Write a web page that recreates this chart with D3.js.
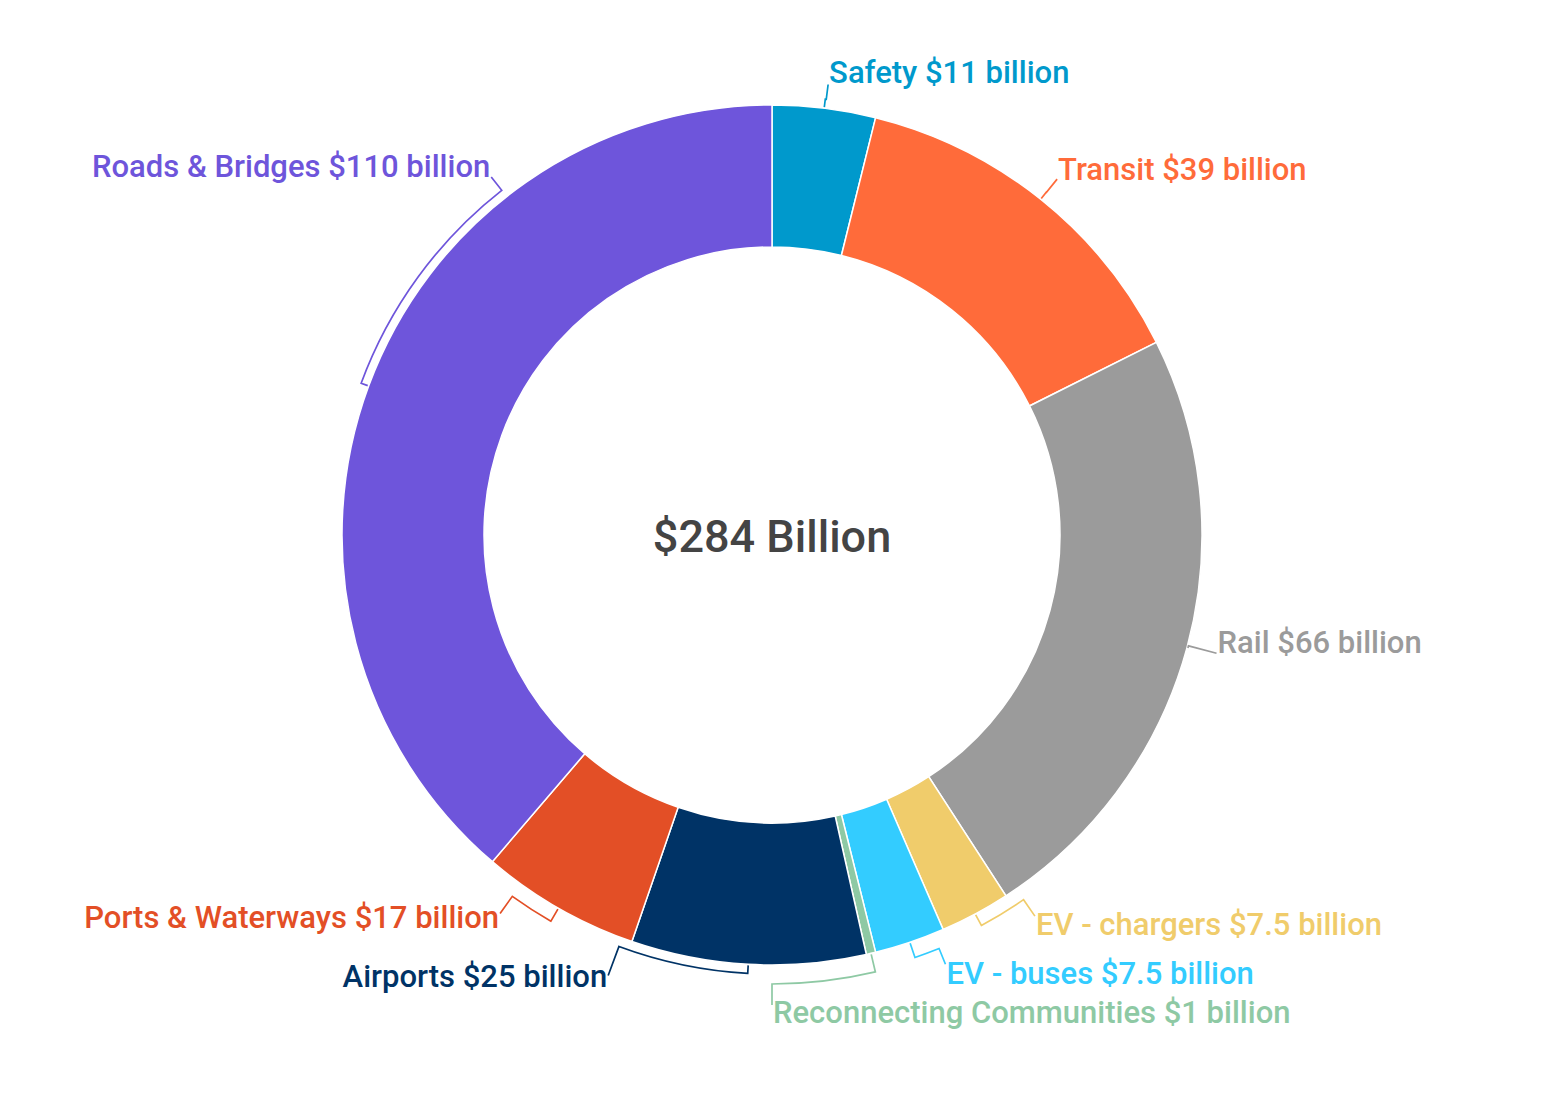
<!DOCTYPE html>
<html>
<head>
<meta charset="utf-8">
<script src="https://cdn.jsdelivr.net/npm/d3@7"></script>
<style>
  body { margin: 0; background: #fff; }
  text { font-family: Roboto, "Noto Sans", sans-serif; }
</style>
</head>
<body>
<svg id="chart"></svg>
<script>
// data (billions of dollars), clockwise from the top
const categories = ["Safety", "Transit", "Rail", "EV - chargers", "EV - buses",
  "Reconnecting Communities", "Airports", "Ports & Waterways", "Roads & Bridges"];
const values = [11, 39, 66, 7.5, 7.5, 1, 25, 17, 110];
const colors = ["#0099cc", "#ff6b3a", "#9b9b9b", "#f0cc6b", "#33ccff",
  "#8ec9a4", "#003366", "#e34f26", "#6e55db"];

// where each label sits: angle (deg), distance from centre, anchor, baseline shift, bracket offset
const labelLayout = [
  { a: 7.1,   r: 454, anchor: "start", dy: -1, b: 9 },
  { a: 38.7,  r: 456, anchor: "start", dy: 1,  b: 9 },
  { a: 104.9, r: 460, anchor: "start", dy: 0,  b: 1 },
  { a: 145.4, r: 463, anchor: "start", dy: 19, b: 13 },
  { a: 158.0, r: 463, anchor: "start", dy: 20, b: 16 },
  { a: 180,   r: 470, anchor: "start", dy: 18, b: 19 },
  { a: 200.4, r: 470, anchor: "end",   dy: 11, b: 9 },
  { a: 215.7, r: 466, anchor: "end",   dy: 15, b: 15 },
  { a: 321.9, r: 455, anchor: "end",   dy: 0,  b: 8 }
];

const width = 1543, height = 1096;
const cx = 772, cy = 535;
const outerR = 430, innerR = 288;

let data = categories.map((c, i) => ({ name: c, value: values[i], color: colors[i] }));
let total = d3.sum(values);

let svg = d3.select("#chart")
  .attr("width", width)
  .attr("height", height);

let g = svg.append("g").attr("transform", "translate(" + cx + "," + cy + ")");

let pie = d3.pie().sort(null).value(d => d.value);
let arc = d3.arc().innerRadius(innerR).outerRadius(outerR);
let arcs = pie(data);

g.selectAll("path.slice")
  .data(arcs)
  .join("path")
  .attr("class", "slice")
  .attr("d", arc)
  .attr("fill", d => d.data.color)
  .attr("stroke", "#fff")
  .attr("stroke-width", 1.5);

// polar -> xy, angle in radians measured clockwise from 12 o'clock
function pt(angle, r) {
  return [r * Math.sin(angle), -r * Math.cos(angle)];
}

// bracket leader lines + labels
arcs.forEach((d, i) => {
  let L = labelLayout[i];
  let mid = (d.startAngle + d.endAngle) / 2;
  let a = L.a * Math.PI / 180;
  let rb = outerR + L.b;
  let p0 = pt(mid, outerR + 1);
  let p1 = pt(mid, rb);
  let p2 = pt(a, rb);
  let p3 = pt(a, L.r);
  let sweep = a > mid ? 1 : 0;
  let path = "M" + p0 + "L" + p1 +
    "A" + rb + "," + rb + " 0 0 " + sweep + " " + p2 +
    "L" + p3;
  g.append("path")
    .attr("d", path)
    .attr("fill", "none")
    .attr("stroke", d.data.color)
    .attr("stroke-width", 1.7);

  g.append("text")
    .attr("x", p3[0] + (L.anchor == "start" ? 1 : -1))
    .attr("y", p3[1] + L.dy)
    .attr("text-anchor", L.anchor)
    .attr("fill", d.data.color)
    .style("font-size", "31px")
    .style("font-weight", 500)
    .text(d.data.name + " $" + d.data.value + " billion");
});

g.append("text")
  .attr("x", 0)
  .attr("y", 17)
  .attr("text-anchor", "middle")
  .attr("fill", "#444")
  .style("font-size", "45px")
  .style("font-weight", 500)
  .text("$" + total + " Billion");
</script>
</body>
</html>
